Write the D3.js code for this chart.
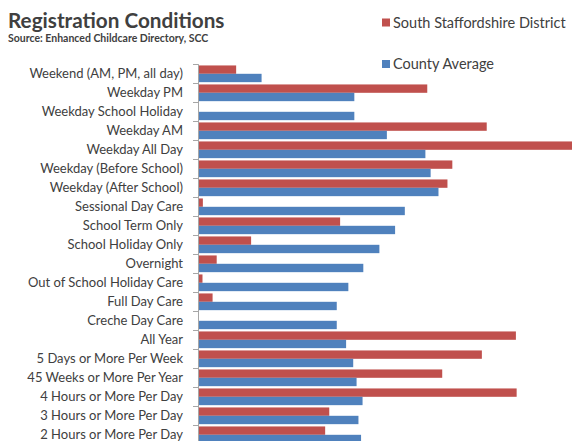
<!DOCTYPE html>
<html><head><meta charset="utf-8">
<script src="https://cdn.jsdelivr.net/npm/d3@7"></script>
<style>html,body{margin:0;padding:0;background:#fff;overflow:hidden}</style>
</head><body><svg id="c" width="572" height="441"></svg>
<script>
const categories = ["Weekend (AM, PM, all day)","Weekday PM","Weekday School Holiday","Weekday AM","Weekday All Day","Weekday (Before School)","Weekday (After School)","Sessional Day Care","School Term Only","School Holiday Only","Overnight","Out of School Holiday Care","Full Day Care","Creche Day Care","All Year","5 Days or More Per Week","45 Weeks or More Per Year","4 Hours or More Per Day","3 Hours or More Per Day","2 Hours or More Per Day"];
const southStaffs = [10.2,61.3,0,77.2,100,68.0,66.7,1.3,38.0,14.2,5.0,1.2,3.9,0,85.0,75.9,65.3,85.2,35.1,34.0];
const countyAvg = [17.0,41.8,41.8,50.5,60.8,62.2,64.3,55.3,52.7,48.5,44.2,40.2,37.1,37.1,39.6,41.5,42.4,44.0,42.9,43.6];
const seriesNames = ["South Staffordshire District","County Average"];
const colors = ["#C0504D","#4F81BD"];

const svg = d3.select("#c");
const x = d3.scaleLinear().domain([0,100]).range([198,572]);
const y = d3.scaleBand().domain(categories).range([64.3,444.3]).paddingInner(0.12).paddingOuter(0.06);
const sub = d3.scaleBand().domain([0,1]).range([0,y.bandwidth()]);

const series = [southStaffs, countyAvg];
series.forEach((vals,si)=>{
  svg.append("g").selectAll("rect").data(vals).join("rect")
    .attr("x", x(0))
    .attr("y",(d,i)=>y(categories[i])+sub(si))
    .attr("width",d=>x(d)-x(0))
    .attr("height",sub.bandwidth())
    .attr("fill",colors[si]);
});

// axis
const ag = svg.append("g").attr("stroke","#A6A6A6").attr("stroke-width",1);
ag.append("line").attr("x1",198.5).attr("x2",198.5).attr("y1",64.3).attr("y2",444);
const step = y.step();
d3.range(0,21).forEach(k=>{
  const yy = Math.round(64.3 + k*step)+0.5;
  ag.append("line").attr("x1",193).attr("x2",198.5).attr("y1",yy).attr("y2",yy);
});

svg.append("g").selectAll("text").data(categories).join("text")
  .attr("x",183).attr("y",d=>y(d)+y.bandwidth()/2)
  .attr("dy","0.35em").attr("text-anchor","end")
  .attr("font-family","Lato").attr("font-size",13).attr("fill","#404040")
  .text(d=>d);

svg.append("text").attr("x",8).attr("y",28).attr("font-family","Lato").attr("font-weight","bold")
  .attr("font-size",20.7).attr("fill","#404040").text("Registration Conditions");
svg.append("text").attr("x",8).attr("y",42).attr("font-family","Lato").attr("font-weight","bold")
  .attr("font-size",10.5).attr("fill","#404040").text("Source: Enhanced Childcare Directory, SCC");

const leg = svg.append("g");
seriesNames.forEach((n,i)=>{
  const ly = [22.5,64][i];
  leg.append("rect").attr("x",382).attr("y",ly-4).attr("width",8).attr("height",8).attr("fill",colors[i]);
  leg.append("text").attr("x",393).attr("y",ly).attr("dy","0.35em").attr("font-family","Lato")
    .attr("font-size",14.5).attr("fill","#404040").text(n);
});
</script></body></html>
